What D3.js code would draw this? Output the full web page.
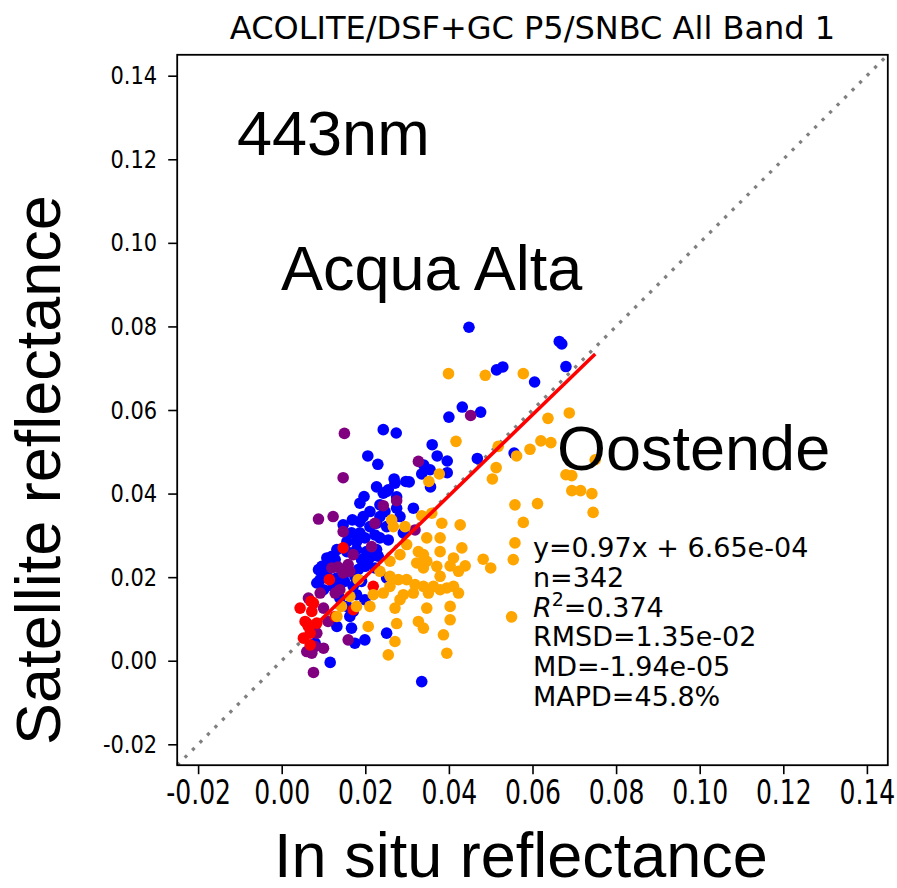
<!DOCTYPE html>
<html><head><meta charset="utf-8">
<script src="https://cdn.jsdelivr.net/npm/d3@7"></script>
<style>body{margin:0;background:#fff} svg{display:block}</style>
</head><body>
<svg id="chart" width="897" height="888"></svg>
<script>
const titleText = "ACOLITE/DSF+GC P5/SNBC All Band 1";
const xLabel = "In situ reflectance";
const yLabel = "Satellite reflectance";
const bandLabel = "443nm";
const siteLabels = ["Acqua Alta", "Oostende"];
const tickValues = [-0.02, 0.00, 0.02, 0.04, 0.06, 0.08, 0.10, 0.12, 0.14];
const axisDomain = [-0.025, 0.145];
const fitSlope = 0.97, fitIntercept = 6.65e-4;
const statsLines = ["y=0.97x + 6.65e-04", "n=342", "R2=0.374", "RMSD=1.35e-02", "MD=-1.94e-05", "MAPD=45.8%"];

// blue points [in situ, satellite]
const bluePts = [
[0.0448,0.0798],[0.0664,0.0764],[0.0670,0.0758],[0.0680,0.0704],[0.0514,0.0696],[0.0529,0.0703],
[0.0605,0.0667],[0.0432,0.0607],[0.0476,0.0595],[0.0400,0.0583],[0.0243,0.0553],[0.0274,0.0545],
[0.0360,0.0517],[0.0206,0.0490],[0.0230,0.0470],[0.0372,0.0490],[0.0396,0.0478],[0.0340,0.0468],
[0.0355,0.0457],[0.0335,0.0447],[0.0396,0.0450],[0.0468,0.0484],[0.0556,0.0497],[0.0269,0.0435],
[0.0297,0.0429],[0.0305,0.0428],[0.0356,0.0416],[0.0227,0.0416],[0.0255,0.0409],[0.0243,0.0401],
[0.0197,0.0393],[0.0275,0.0392],[0.0251,0.0405],[0.0271,0.0425],[0.0187,0.0377],[0.0211,0.0357],
[0.0195,0.0345],[0.0187,0.0333],[0.0235,0.0373],[0.0247,0.0357],[0.0235,0.0345],[0.0275,0.0365],
[0.0283,0.0345],[0.0315,0.0365],[0.0227,0.0329],[0.0251,0.0321],[0.0167,0.0306],[0.0187,0.0306],
[0.0156,0.0285],[0.0179,0.0285],[0.0199,0.0294],[0.0223,0.0301],[0.0235,0.0294],[0.0255,0.0289],
[0.0291,0.0306],[0.0132,0.0266],[0.0156,0.0261],[0.0179,0.0266],[0.0203,0.0261],[0.0227,0.0266],
[0.0108,0.0246],[0.0128,0.0242],[0.0096,0.0226],[0.0116,0.0234],[0.0191,0.0242],[0.0207,0.0242],
[0.0231,0.0250],[0.0088,0.0218],[0.0092,0.0194],[0.0104,0.0206],[0.0132,0.0198],[0.0156,0.0214],
[0.0175,0.0202],[0.0183,0.0218],[0.0199,0.0226],[0.0223,0.0222],[0.0084,0.0186],[0.0100,0.0170],
[0.0123,0.0178],[0.0139,0.0186],[0.0171,0.0178],[0.0191,0.0190],[0.0251,0.0198],[0.0179,0.0158],
[0.0199,0.0146],[0.0139,0.0150],[0.0156,0.0130],[0.0171,0.0118],[0.0163,0.0106],[0.0132,0.0082],
[0.0167,0.0078],[0.0251,0.0066],[0.0175,0.0042],[0.0199,0.0050],[0.0116,-0.0004],[0.0335,-0.0050],
[0.0080,0.0042],[0.0169,0.0337],[0.0147,0.0325],[0.0211,0.0321],[0.0120,0.0250],[0.0110,0.0200],
[0.0150,0.0190],[0.0215,0.0250]
];
// purple points
const purplePts = [
[0.0150,0.0544],[0.0147,0.0438],[0.0327,0.0477],[0.0452,0.0587],[0.0275,0.0383],[0.0243,0.0371],
[0.0088,0.0339],[0.0123,0.0345],[0.0147,0.0309],[0.0223,0.0329],[0.0319,0.0313],[0.0215,0.0273],
[0.0171,0.0254],[0.0120,0.0222],[0.0135,0.0224],[0.0159,0.0230],[0.0163,0.0214],[0.0147,0.0210],
[0.0092,0.0162],[0.0128,0.0162],[0.0139,0.0170],[0.0064,0.0150],[0.0100,0.0126],[0.0111,0.0094],
[0.0084,0.0066],[0.0080,0.0034],[0.0100,0.0030],[0.0159,0.0050],[0.0060,0.0022],[0.0072,0.0018],
[0.0076,-0.0028],[0.0080,0.0086]
];
// red points
const redPts = [
[0.0114,0.0194],[0.0044,0.0126],[0.0070,0.0142],[0.0056,0.0094],[0.0064,0.0082],[0.0052,0.0054],
[0.0068,0.0038],[0.0171,0.0122],[0.0219,0.0178],[0.0147,0.0270],[0.0076,0.0138],[0.0072,0.0118],
[0.0060,0.0090],[0.0084,0.0090],[0.0068,0.0066],[0.0128,0.0106]
];
// orange points
const orangePts = [
[0.0399,0.0687],[0.0487,0.0683],[0.0578,0.0687],[0.0637,0.0580],[0.0688,0.0593],[0.0417,0.0525],
[0.0518,0.0513],[0.0594,0.0506],[0.0620,0.0526],[0.0644,0.0522],[0.0562,0.0490],[0.0513,0.0462],
[0.0504,0.0435],[0.0377,0.0447],[0.0352,0.0429],[0.0680,0.0445],[0.0694,0.0443],[0.0694,0.0407],
[0.0715,0.0407],[0.0742,0.0400],[0.0750,0.0481],[0.0745,0.0355],[0.0558,0.0373],[0.0612,0.0376],
[0.0578,0.0331],[0.0558,0.0282],[0.0554,0.0242],[0.0482,0.0243],[0.0500,0.0222],[0.0550,0.0105],
[0.0359,0.0353],[0.0383,0.0329],[0.0427,0.0325],[0.0267,0.0321],[0.0295,0.0321],[0.0347,0.0294],
[0.0379,0.0294],[0.0299,0.0278],[0.0283,0.0254],[0.0259,0.0238],[0.0327,0.0261],[0.0339,0.0254],
[0.0323,0.0234],[0.0339,0.0222],[0.0347,0.0238],[0.0411,0.0246],[0.0431,0.0270],[0.0439,0.0227],
[0.0423,0.0214],[0.0403,0.0227],[0.0371,0.0226],[0.0379,0.0202],[0.0235,0.0214],[0.0259,0.0202],
[0.0279,0.0194],[0.0299,0.0194],[0.0319,0.0182],[0.0259,0.0178],[0.0339,0.0178],[0.0351,0.0162],
[0.0363,0.0178],[0.0379,0.0170],[0.0395,0.0174],[0.0411,0.0178],[0.0423,0.0162],[0.0243,0.0162],
[0.0291,0.0158],[0.0315,0.0162],[0.0283,0.0146],[0.0219,0.0158],[0.0211,0.0130],[0.0271,0.0126],
[0.0347,0.0126],[0.0403,0.0130],[0.0403,0.0098],[0.0327,0.0094],[0.0339,0.0078],[0.0275,0.0089],
[0.0207,0.0082],[0.0387,0.0062],[0.0271,0.0046],[0.0395,0.0018],[0.0255,0.0014],[0.0379,0.0261],
[0.0179,0.0130],[0.0163,0.0154],[0.0143,0.0130],[0.0132,0.0106],[0.0183,0.0194],[0.0263,0.0337],
[0.0335,0.0347]
];

const seriesList = [
  {pts: bluePts, color: "#0000ff"},
  {pts: purplePts, color: "#800080"},
  {pts: redPts, color: "#ff0000"},
  {pts: orangePts, color: "#ffa500"}
];

const svg = d3.select("#chart");
const L = 177.2, R = 887.8, T = 54.8, B = 765.2;
const x = d3.scaleLinear().domain(axisDomain).range([L, R]);
const y = d3.scaleLinear().domain(axisDomain).range([B, T]);

svg.append("rect").attr("width", 897).attr("height", 888).attr("fill", "#fff");

// 1:1 line
svg.append("line")
  .attr("x1", x(axisDomain[0])).attr("y1", y(axisDomain[0]))
  .attr("x2", x(axisDomain[1])).attr("y2", y(axisDomain[1]))
  .attr("stroke", "#808080").attr("stroke-width", 3.3)
  .attr("stroke-dasharray", "3.3,7.3");

// points
seriesList.forEach(s => {
  svg.append("g").selectAll("circle").data(s.pts).join("circle")
    .attr("cx", d => x(d[0])).attr("cy", d => y(d[1]))
    .attr("r", 5.8).attr("fill", s.color);
});

// fit line
const allX = seriesList.flatMap(s => s.pts.map(d => d[0]));
const fx = d3.extent(allX);
svg.append("line")
  .attr("x1", x(fx[0])).attr("y1", y(fitSlope * fx[0] + fitIntercept))
  .attr("x2", x(fx[1])).attr("y2", y(fitSlope * fx[1] + fitIntercept))
  .attr("stroke", "#ff0000").attr("stroke-width", 3.5);

// frame
svg.append("rect").attr("x", L).attr("y", T).attr("width", R - L).attr("height", B - T)
  .attr("fill", "none").attr("stroke", "#000").attr("stroke-width", 1.8);

const fmt = v => d3.format(".2f")(v).replace("\u2212", "-");
const xAxis = svg.append("g").attr("transform", `translate(0,${B})`)
  .call(d3.axisBottom(x).tickValues(tickValues).tickFormat(fmt).tickSize(9).tickPadding(6));
const yAxis = svg.append("g").attr("transform", `translate(${L},0)`)
  .call(d3.axisLeft(y).tickValues(tickValues).tickFormat(fmt).tickSize(9).tickPadding(8));
[xAxis, yAxis].forEach(g => {
  g.select(".domain").remove();
  g.selectAll(".tick line").attr("stroke", "#000").attr("stroke-width", 1.6);
  g.selectAll("text").attr("fill", "#000").attr("font-family", "DejaVu Sans");
});
const xr = 0.76, yr = 0.84;
xAxis.selectAll("text").attr("font-size", 33).attr("dy", "0.71em")
  .attr("transform", `scale(${xr},1)`);
yAxis.selectAll("text").attr("font-size", 25)
  .attr("x", -20 / yr).attr("transform", `scale(${yr},1)`);

// title
svg.append("text").attr("x", (L + R) / 2).attr("y", 39).attr("text-anchor", "middle")
  .attr("font-family", "DejaVu Sans").attr("font-size", 32).attr("fill", "#000")
  .text(titleText);

// axis labels
svg.append("text").attr("x", 521).attr("y", 877).attr("text-anchor", "middle")
  .attr("font-family", "Liberation Sans, Arial").attr("font-size", 63).text(xLabel);
svg.append("text").attr("transform", "translate(60,470) rotate(-90)").attr("text-anchor", "middle")
  .attr("font-family", "Liberation Sans, Arial").attr("font-size", 63).text(yLabel);

// annotations
const big = (t, px, py) => svg.append("text").attr("x", px).attr("y", py)
  .attr("font-family", "Liberation Sans, Arial").attr("font-size", 63).text(t);
big(bandLabel, 237, 155);
big(siteLabels[0], 281, 290);
big(siteLabels[1], 557, 470);

// stats
const sg = svg.append("g").attr("font-family", "DejaVu Sans").attr("font-size", 27).attr("fill", "#000");
statsLines.forEach((s, i) => {
  const t = sg.append("text").attr("x", 533).attr("y", 557 + i * 29.8);
  if (s.startsWith("R2")) {
    t.append("tspan").attr("font-style", "italic").text("R");
    t.append("tspan").attr("font-size", 19).attr("dy", -11).text("2");
    t.append("tspan").attr("dy", 11).text(s.slice(2));
  } else t.text(s);
});
</script>
</body></html>
